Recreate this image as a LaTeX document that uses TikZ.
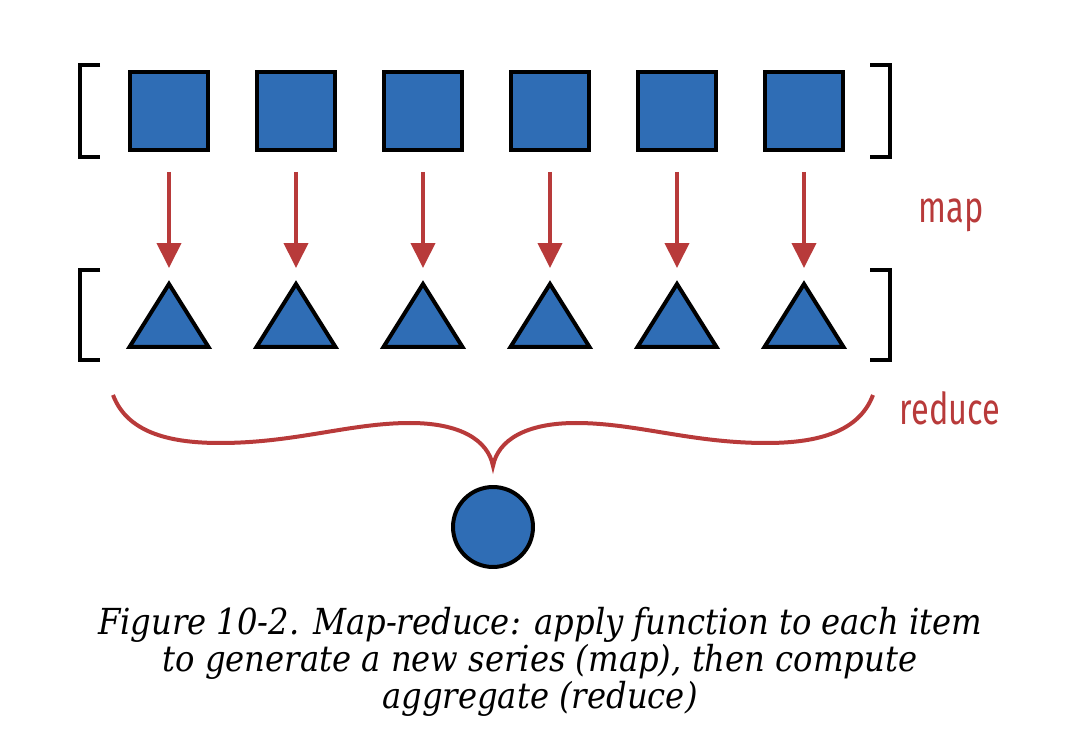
\documentclass[tikz,border=0pt]{standalone}
\usepackage{fontspec}
\usetikzlibrary{arrows.meta}
\newfontfamily\capfont{DejaVu Serif Condensed}[ItalicFont={DejaVu Serif Condensed Italic}]
\newfontfamily\lblfont{Fira Sans}[FakeStretch=0.74]
\definecolor{itemblue}{HTML}{2F6DB5}
\definecolor{redline}{HTML}{B83A3A}

\begin{document}
\begin{tikzpicture}[x=0.02cm, y=0.02cm,
    item/.style = {rectangle, draw=black, fill=itemblue, line width=0.08cm,
                   minimum size=1.56cm, inner sep=0pt},
    result/.style = {circle, draw=black, fill=itemblue, line width=0.08cm,
                     minimum size=1.6cm, inner sep=0pt},
    outline/.style = {draw=black, fill=itemblue, line width=0.08cm},
    bracket/.style = {draw=black, line width=0.08cm},
    mapto/.style = {draw=redline, line width=0.08cm,
                    -{Triangle[length=0.5cm, width=0.48cm]},
                    shorten <=0.4cm, shorten >=0.32cm},
    brace/.style = {draw=redline, line width=0.08cm},
    tag/.style = {text=redline, font=\lblfont\fontsize{25}{28}\selectfont}]
  \useasboundingbox (0,0) rectangle (1080,738);

  % input series
  \foreach \i in {1,...,6}
    \node[item] (sq\i) at ({42+127*\i},627) {};
  \draw[bracket] (100,673) -- (80,673) -- (80,581) -- (100,581);
  \draw[bracket] (870,673) -- (890,673) -- (890,581) -- (870,581);

  % mapped series
  \foreach \i in {1,...,6} {
    \coordinate (tri\i) at ({42+127*\i},454);
    \draw[outline] (tri\i) -- ++(39.5,-63) -- ++(-79,0) -- cycle;
    \draw[mapto] (sq\i.south) -- (tri\i);
  }
  \draw[bracket] (100,468) -- (80,468) -- (80,378) -- (100,378);
  \draw[bracket] (870,468) -- (890,468) -- (890,378) -- (870,378);

  \node[tag] (maplbl) at (951,523) {map};

  % reduce
  \coordinate (tip) at (493,272);
  \draw[brace] (113,343) .. controls (128,303) and (175,295) .. (220,295)
    .. controls (295,295) and (350,315) .. (410,315)
    .. controls (460,315) and (488,298) .. (tip)
    .. controls (498,298) and (526,315) .. (576,315)
    .. controls (636,315) and (691,295) .. (766,295)
    .. controls (811,295) and (858,303) .. (873,343);
  \node[tag] (redlbl) at (950,330) {reduce};
  \node[result] (agg) at (493,211) {};

  % caption
  \node[font=\capfont\itshape\fontsize{20.4}{18.1}\selectfont, align=center] (cap) at (540,76)
    {Figure 10-2. Map-reduce: apply function to each item\\
     to generate a new series (map), then compute\\
     aggregate (reduce)};
\end{tikzpicture}
\end{document}
